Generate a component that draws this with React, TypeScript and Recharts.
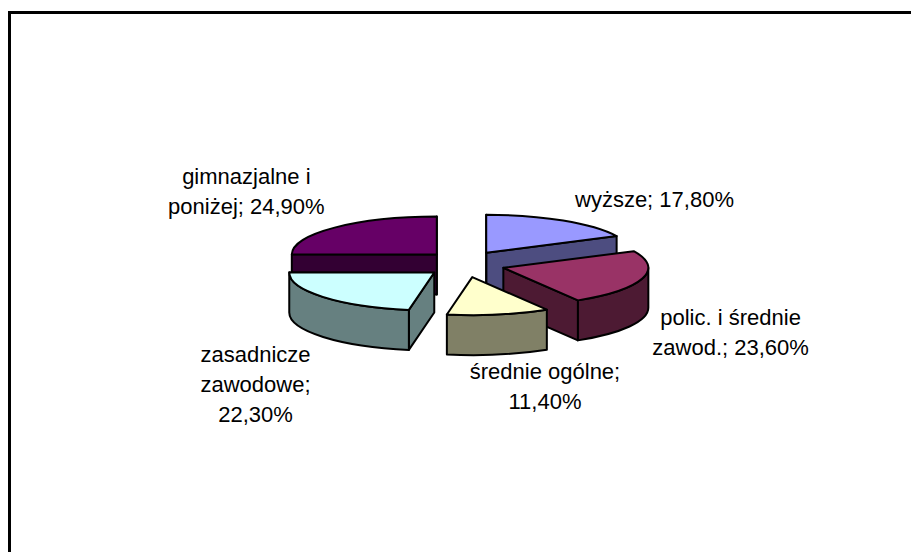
import React from "react";
import { PieChart, Pie } from "recharts";

// ---- data ----
const categories = [
  "wyższe",
  "polic. i średnie zawod.",
  "średnie ogólne",
  "zasadnicze zawodowe",
  "gimnazjalne i poniżej",
];
const shares = [17.8, 23.6, 11.4, 22.3, 24.9];
const topColors = ["#9999FF", "#993366", "#FFFFCC", "#CCFFFF", "#660066"];
const sideColors = ["#4D4D80", "#4D1A33", "#808066", "#668080", "#330033"];

const data = categories.map((name, i) => ({ name, value: shares[i] }));

// ---- layout ----
const W = 911;
const H = 552;
const CX = 460;
const CY = 259;
const R = 145;
const TILT = 0.262;
const DEPTH = 40;
const EXPLODE = 40;
const EXPLODE_TILT = 0.333;
const FONT = 22;
const LINE = 30;
const GAP = 11;
const GAPY = 9;
const RAD = Math.PI / 180;

const idxOf = (p: any) => categories.indexOf(p?.payload?.name ?? p?.name);

const sliceCenter = (cx: number, cy: number, mid: number) => [
  cx + EXPLODE * Math.cos(mid * RAD),
  cy - EXPLODE * EXPLODE_TILT * Math.sin(mid * RAD),
];
const pt = (c: number[], r: number, a: number, dy = 0) => [
  c[0] + r * Math.cos(a * RAD),
  c[1] - r * TILT * Math.sin(a * RAD) + dy,
];
const f = (p: number[]) => `${p[0].toFixed(2)},${p[1].toFixed(2)}`;

const fmt = (v: number) => v.toFixed(2).replace(".", ",") + "%";

const charW = (ch: string) => {
  if ("0123456789".includes(ch)) return 0.556;
  if ("il.,;:j ".includes(ch)) return 0.26;
  if ("mw%".includes(ch)) return 0.8;
  if (ch === "r") return 0.333;
  return 0.54;
};
const textW = (s: string) => Array.from(s).reduce((a, ch) => a + charW(ch), 0) * FONT;

const wrap = (text: string, max: number) => {
  const words = text.split(" ");
  const lines: string[] = [];
  let cur = "";
  words.forEach((w) => {
    const cand = cur ? cur + " " + w : w;
    if (cur && textW(cand) > max) {
      lines.push(cur);
      cur = w;
    } else cur = cand;
  });
  if (cur) lines.push(cur);
  return lines;
};

const clamp = (v: number) => Math.max(0, Math.min(1, v));

const renderSlice = (layer: number) => (props: any) => {
  const { cx, cy, outerRadius, startAngle, endAngle } = props;
  const i = idxOf(props);
  const mid = props.midAngle ?? (startAngle + endAngle) / 2;
  const back = Math.sin(mid * RAD) > 0;
  if ((layer === 0) !== back || i < 0) return <g />;
  const a1 = Math.min(startAngle, endAngle);
  const a2 = Math.max(startAngle, endAngle);
  const c = sliceCenter(cx, cy, mid);
  const r = outerRadius;
  const ry = r * TILT;
  const cD = [c[0], c[1] + DEPTH];
  const side = sideColors[i];
  const top = topColors[i];
  const common = {
    stroke: "#000",
    strokeWidth: 2,
    strokeLinejoin: "round" as const,
  };
  const faces: React.ReactNode[] = [];
  if (Math.cos(a1 * RAD) > -1e-3) {
    faces.push(
      <path key="f1" d={`M${f(c)}L${f(pt(c, r, a1))}L${f(pt(c, r, a1, DEPTH))}L${f(cD)}Z`} fill={side} {...common} />
    );
  }
  if (Math.cos(a2 * RAD) < 1e-3) {
    faces.push(
      <path key="f2" d={`M${f(c)}L${f(pt(c, r, a2))}L${f(pt(c, r, a2, DEPTH))}L${f(cD)}Z`} fill={side} {...common} />
    );
  }
  for (let k = -2; k <= 2; k++) {
    const lo = Math.max(a1, -180 + 360 * k);
    const hi = Math.min(a2, 360 * k);
    if (hi - lo > 0.01) {
      const large = hi - lo > 180 ? 1 : 0;
      faces.push(
        <path
          key={"w" + k}
          d={`M${f(pt(c, r, lo))}A${r},${ry} 0 ${large} 0 ${f(pt(c, r, hi))}L${f(pt(c, r, hi, DEPTH))}A${r},${ry} 0 ${large} 1 ${f(pt(c, r, lo, DEPTH))}Z`}
          fill={side}
          {...common}
        />
      );
    }
  }
  const largeTop = a2 - a1 > 180 ? 1 : 0;
  faces.push(
    <path
      key="top"
      d={`M${f(c)}L${f(pt(c, r, a1))}A${r},${ry} 0 ${largeTop} 0 ${f(pt(c, r, a2))}Z`}
      fill={top}
      {...common}
    />
  );
  return <g>{faces}</g>;
};

const renderLabel = (props: any) => {
  const { cx, cy, outerRadius } = props;
  const i = idxOf(props);
  if (i < 0) return null;
  const mid = props.midAngle;
  const s = Math.sin(mid * RAD);
  const co = Math.cos(mid * RAD);
  const c = sliceCenter(cx, cy, mid);
  const P = pt(c, outerRadius, mid, s < 0 ? DEPTH : 0);
  const lines = wrap(`${categories[i]}; ${fmt(shares[i])}`, 8 * FONT);
  const w = Math.max(...lines.map(textW));
  const hBlock = (lines.length - 1) * LINE + 21;
  const fx = clamp((1 - 3 * co) / 2);
  const left = P[0] - fx * w + GAP * (1 - 2 * fx);
  const xc = left + w / 2;
  const hy = clamp((1 + 1.6 * s) / 2);
  const topY = P[1] - hy * hBlock + GAPY * (1 - 2 * hy);
  const base = topY + 16;
  return (
    <text
      key={"lbl" + i}
      x={xc}
      y={base}
      textAnchor="middle"
      fill="#000"
      stroke="none"
      fontFamily="'Liberation Sans', Arial, sans-serif"
      fontSize={FONT}
    >
      {lines.map((ln, j) => (
        <tspan key={j} x={xc} y={base + j * LINE}>
          {ln}
        </tspan>
      ))}
    </text>
  );
};

export default function App() {
  const back = renderSlice(0);
  const front = renderSlice(1);
  return (
    <div
      style={{
        position: "absolute",
        left: 0,
        top: 0,
        width: W,
        height: H,
        overflow: "hidden",
        background: "#fff",
      }}
    >
      <div
        style={{
          position: "absolute",
          left: 8,
          top: 11,
          width: 2000,
          height: 2000,
          border: "3px solid #000",
          boxSizing: "border-box",
        }}
      />
      <div style={{ position: "absolute", left: 0, top: 0 }}>
        <PieChart width={W} height={H}>
          <Pie
            data={data}
            dataKey="value"
            nameKey="name"
            cx={CX}
            cy={CY}
            outerRadius={R}
            startAngle={90}
            endAngle={-270}
            stroke="#000"
            isAnimationActive={false}
            label={false}
            labelLine={false}
            shape={back}
            activeShape={back}
            inactiveShape={back}
          />
          <Pie
            data={data}
            dataKey="value"
            nameKey="name"
            cx={CX}
            cy={CY}
            outerRadius={R}
            startAngle={90}
            endAngle={-270}
            stroke="#000"
            isAnimationActive={false}
            label={renderLabel}
            labelLine={false}
            shape={front}
            activeShape={front}
            inactiveShape={front}
          />
        </PieChart>
      </div>
    </div>
  );
}
